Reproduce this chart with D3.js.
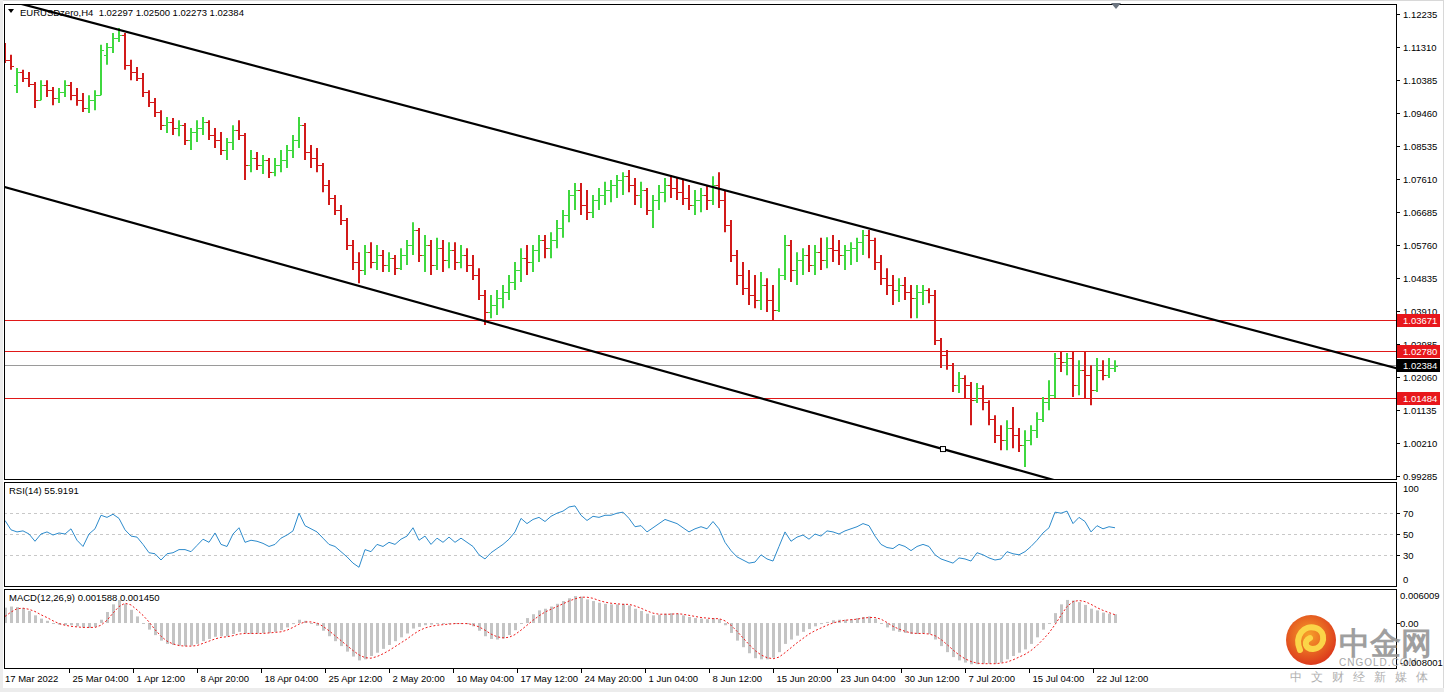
<!DOCTYPE html>
<html><head><meta charset="utf-8">
<script src="https://cdn.jsdelivr.net/npm/d3@7"></script>
<style>body{margin:0;background:#fff;} svg{display:block;} text{font-family:"Liberation Sans",Arial,sans-serif;}</style>
</head><body><svg id="c" width="1444" height="692"></svg>
<script>
// ---- DATA (each point = 3 H4 bars) ----
const opens=[1.1137,1.1095,1.1024,1.1061,1.1044,1.1027,1.0982,1.1024,1.1010,1.0988,
1.1005,1.1024,1.0996,1.0982,1.0960,1.0982,1.0996,1.1109,1.1131,1.1156,
1.1165,1.1081,1.1061,1.1044,1.1005,1.0977,1.0949,1.0912,1.0921,1.0904,
1.0912,1.0870,1.0893,1.0904,1.0921,1.0884,1.0870,1.0842,1.0865,1.0898,
1.0884,1.0800,1.0820,1.0800,1.0814,1.0780,1.0800,1.0814,1.0842,1.0870,
1.0912,1.0837,1.0820,1.0800,1.0744,1.0708,1.0674,1.0646,1.0576,1.0528,
1.0506,1.0556,1.0528,1.0548,1.0520,1.0539,1.0511,1.0548,1.0576,1.0618,
1.0548,1.0576,1.0520,1.0567,1.0534,1.0562,1.0528,1.0548,1.0520,1.0492,
1.0436,1.0388,1.0408,1.0427,1.0444,1.0472,1.0506,1.0539,1.0528,1.0562,
1.0590,1.0567,1.0590,1.0624,1.0660,1.0716,1.0730,1.0688,1.0668,1.0702,
1.0716,1.0730,1.0744,1.0758,1.0769,1.0744,1.0716,1.0730,1.0674,1.0702,
1.0724,1.0744,1.0736,1.0724,1.0708,1.0688,1.0702,1.0716,1.0702,1.0744,
1.0702,1.0632,1.0548,1.0492,1.0455,1.0436,1.0422,1.0464,1.0422,1.0394,
1.0492,1.0576,1.0506,1.0534,1.0548,1.0520,1.0556,1.0534,1.0567,1.0562,
1.0548,1.0562,1.0567,1.0584,1.0604,1.0590,1.0528,1.0483,1.0464,1.0450,
1.0464,1.0444,1.0427,1.0444,1.0450,1.0436,1.0310,1.0268,1.0240,1.0183,
1.0203,1.0183,1.0141,1.0175,1.0136,1.0088,1.0043,1.0029,1.0063,1.0043,
1.0015,1.0029,1.0057,1.0088,1.0136,1.0155,1.0259,1.0248,1.0259,1.0183,
1.0225,1.0211,1.0169,1.0225,1.0211,1.0231];
const highs=[1.1142,1.1109,1.1072,1.1067,1.1061,1.1033,1.1038,1.1038,1.1019,1.1016,
1.1038,1.1033,1.1016,1.1002,1.0996,1.1010,1.1137,1.1142,1.1170,1.1184,
1.1170,1.1095,1.1075,1.1058,1.1010,1.0988,1.0954,1.0935,1.0932,1.0926,
1.0918,1.0904,1.0926,1.0935,1.0926,1.0904,1.0893,1.0876,1.0912,1.0926,
1.0890,1.0842,1.0837,1.0828,1.0820,1.0820,1.0842,1.0856,1.0884,1.0935,
1.0918,1.0856,1.0848,1.0806,1.0758,1.0716,1.0688,1.0652,1.0590,1.0556,
1.0576,1.0584,1.0576,1.0562,1.0556,1.0548,1.0567,1.0590,1.0640,1.0624,
1.0604,1.0590,1.0596,1.0590,1.0584,1.0584,1.0576,1.0567,1.0548,1.0511,
1.0450,1.0436,1.0450,1.0464,1.0492,1.0528,1.0567,1.0576,1.0576,1.0604,
1.0604,1.0612,1.0646,1.0674,1.0730,1.0750,1.0750,1.0730,1.0716,1.0736,
1.0753,1.0758,1.0772,1.0780,1.0786,1.0764,1.0753,1.0736,1.0716,1.0744,
1.0764,1.0772,1.0764,1.0758,1.0744,1.0730,1.0736,1.0744,1.0769,1.0780,
1.0730,1.0646,1.0562,1.0528,1.0506,1.0492,1.0500,1.0483,1.0464,1.0511,
1.0604,1.0590,1.0556,1.0567,1.0576,1.0576,1.0596,1.0598,1.0604,1.0590,
1.0576,1.0584,1.0596,1.0618,1.0618,1.0596,1.0548,1.0511,1.0492,1.0483,
1.0486,1.0464,1.0464,1.0464,1.0455,1.0450,1.0315,1.0282,1.0245,1.0220,
1.0211,1.0192,1.0189,1.0183,1.0141,1.0099,1.0071,1.0085,1.0122,1.0063,
1.0057,1.0071,1.0107,1.0150,1.0197,1.0273,1.0276,1.0273,1.0276,1.0253,
1.0276,1.0239,1.0259,1.0253,1.0259,1.0253];
const lows=[1.1086,1.1067,1.1002,1.1033,1.1019,1.0960,1.0982,1.0991,1.0968,1.0974,
1.0991,1.0982,1.0966,1.0949,1.0946,1.0954,1.0996,1.1081,1.1114,1.1145,
1.1067,1.1038,1.1036,1.0991,1.0963,1.0935,1.0898,1.0890,1.0884,1.0881,
1.0856,1.0842,1.0865,1.0884,1.0870,1.0848,1.0828,1.0814,1.0842,1.0870,
1.0758,1.0780,1.0786,1.0775,1.0764,1.0769,1.0780,1.0792,1.0820,1.0848,
1.0814,1.0792,1.0780,1.0724,1.0688,1.0660,1.0632,1.0562,1.0506,1.0469,
1.0492,1.0511,1.0506,1.0500,1.0500,1.0492,1.0506,1.0520,1.0548,1.0528,
1.0500,1.0492,1.0506,1.0500,1.0511,1.0506,1.0511,1.0500,1.0478,1.0422,
1.0352,1.0371,1.0380,1.0399,1.0422,1.0450,1.0472,1.0492,1.0500,1.0528,
1.0539,1.0539,1.0567,1.0596,1.0640,1.0674,1.0660,1.0646,1.0652,1.0674,
1.0688,1.0696,1.0708,1.0716,1.0724,1.0688,1.0680,1.0660,1.0624,1.0674,
1.0696,1.0708,1.0702,1.0688,1.0674,1.0660,1.0668,1.0674,1.0688,1.0680,
1.0612,1.0528,1.0464,1.0436,1.0408,1.0399,1.0394,1.0388,1.0366,1.0388,
1.0478,1.0472,1.0464,1.0492,1.0500,1.0492,1.0506,1.0511,1.0528,1.0520,
1.0506,1.0520,1.0528,1.0548,1.0539,1.0506,1.0464,1.0436,1.0408,1.0416,
1.0422,1.0371,1.0371,1.0408,1.0413,1.0296,1.0231,1.0226,1.0164,1.0161,
1.0147,1.0071,1.0133,1.0113,1.0071,1.0021,1.0001,1.0001,1.0006,0.9996,
0.9954,1.0015,1.0035,1.0080,1.0113,1.0147,1.0220,1.0211,1.0150,1.0155,
1.0147,1.0127,1.0164,1.0197,1.0203,1.0220];
const closes=[1.1095,1.1078,1.1061,1.1044,1.1027,1.0982,1.1024,1.1010,1.0988,1.1005,
1.1024,1.0996,1.0982,1.0960,1.0982,1.0996,1.1123,1.1131,1.1156,1.1165,
1.1081,1.1061,1.1044,1.1005,1.0977,1.0949,1.0912,1.0921,1.0904,1.0912,
1.0870,1.0893,1.0904,1.0921,1.0884,1.0870,1.0842,1.0865,1.0898,1.0884,
1.0800,1.0820,1.0800,1.0814,1.0780,1.0800,1.0814,1.0842,1.0870,1.0912,
1.0837,1.0820,1.0800,1.0744,1.0708,1.0674,1.0646,1.0576,1.0528,1.0506,
1.0556,1.0528,1.0548,1.0520,1.0539,1.0511,1.0548,1.0576,1.0618,1.0548,
1.0576,1.0520,1.0567,1.0534,1.0562,1.0528,1.0548,1.0520,1.0492,1.0436,
1.0388,1.0408,1.0427,1.0444,1.0472,1.0506,1.0539,1.0528,1.0562,1.0590,
1.0567,1.0590,1.0624,1.0660,1.0716,1.0730,1.0688,1.0668,1.0702,1.0716,
1.0730,1.0744,1.0758,1.0769,1.0744,1.0716,1.0730,1.0674,1.0702,1.0724,
1.0744,1.0736,1.0724,1.0708,1.0688,1.0702,1.0716,1.0702,1.0744,1.0702,
1.0632,1.0548,1.0492,1.0455,1.0436,1.0422,1.0464,1.0422,1.0394,1.0492,
1.0576,1.0506,1.0534,1.0548,1.0520,1.0556,1.0534,1.0567,1.0562,1.0548,
1.0562,1.0567,1.0584,1.0604,1.0590,1.0528,1.0483,1.0464,1.0450,1.0464,
1.0444,1.0427,1.0444,1.0450,1.0436,1.0310,1.0268,1.0240,1.0183,1.0203,
1.0183,1.0141,1.0175,1.0136,1.0088,1.0043,1.0029,1.0063,1.0043,1.0015,
1.0029,1.0057,1.0088,1.0136,1.0155,1.0259,1.0248,1.0259,1.0183,1.0225,
1.0211,1.0169,1.0225,1.0211,1.0231,1.0238];
const rsi=[63,54,52,53,50,43,50,52,49,51,
50,55,44,38,50,55,68,66,69,65,
54,48,47,40,32,31,25,31,32,35,
35,33,39,45,42,51,40,38,50,56,
42,44,43,41,38,40,46,49,53,70,
58,55,52,46,40,38,33,28,22,18,
35,33,40,38,42,40,45,48,56,44,
48,40,46,42,47,42,46,42,38,30,
26,32,36,40,45,52,65,60,64,66,
62,67,70,72,76,77,68,63,67,66,
68,68,70,71,65,57,58,52,56,60,
64,62,60,56,52,55,57,55,62,55,
42,34,28,25,22,23,30,26,24,38,
52,43,47,49,45,50,48,53,52,50,
53,55,57,60,58,48,40,37,36,40,
38,34,38,40,38,30,26,24,22,27,
26,24,32,30,27,25,26,33,31,30,
33,38,44,51,56,71,70,72,60,66,
62,52,58,55,57,56];
const macdHist=[0.0028,0.0030,0.0029,0.0027,0.0022,0.0014,0.0008,0.0004,0.0000,-0.0003,
-0.0004,-0.0004,-0.0006,-0.0008,-0.0009,-0.0007,0.0006,0.0020,0.0034,0.0042,
0.0035,0.0024,0.0012,0.0000,-0.0012,-0.0022,-0.0032,-0.0038,-0.0040,-0.0041,
-0.0042,-0.0041,-0.0038,-0.0033,-0.0029,-0.0025,-0.0024,-0.0024,-0.0020,-0.0016,
-0.0019,-0.0020,-0.0019,-0.0018,-0.0018,-0.0016,-0.0013,-0.0008,-0.0002,0.0006,
0.0004,0.0000,-0.0005,-0.0014,-0.0024,-0.0033,-0.0042,-0.0052,-0.0061,-0.0068,
-0.0066,-0.0060,-0.0054,-0.0047,-0.0040,-0.0033,-0.0026,-0.0019,-0.0010,-0.0007,
-0.0004,-0.0003,-0.0001,-0.0001,0.0000,-0.0001,-0.0001,-0.0002,-0.0006,-0.0014,
-0.0024,-0.0029,-0.0030,-0.0028,-0.0022,-0.0013,0.0000,0.0009,0.0016,0.0023,
0.0026,0.0030,0.0035,0.0040,0.0045,0.0049,0.0048,0.0043,0.0040,0.0037,
0.0035,0.0034,0.0034,0.0035,0.0032,0.0026,0.0022,0.0017,0.0014,0.0015,
0.0017,0.0018,0.0017,0.0014,0.0011,0.0009,0.0008,0.0007,0.0009,0.0007,
-0.0004,-0.0018,-0.0032,-0.0044,-0.0055,-0.0064,-0.0066,-0.0066,-0.0063,-0.0053,
-0.0038,-0.0030,-0.0023,-0.0016,-0.0011,-0.0006,-0.0002,0.0002,0.0005,0.0006,
0.0006,0.0007,0.0009,0.0011,0.0012,0.0008,0.0000,-0.0008,-0.0014,-0.0016,
-0.0018,-0.0020,-0.0020,-0.0019,-0.0020,-0.0030,-0.0042,-0.0053,-0.0062,-0.0068,
-0.0072,-0.0075,-0.0075,-0.0074,-0.0074,-0.0074,-0.0072,-0.0066,-0.0060,-0.0054,
-0.0048,-0.0038,-0.0026,-0.0012,0.0000,0.0018,0.0034,0.0042,0.0041,0.0038,
0.0033,0.0026,0.0023,0.0019,0.0017,0.0016];
const macdSignal=[0.0012,0.0020,0.0026,0.0027,0.0025,0.0021,0.0015,0.0010,0.0004,-0.0001,
-0.0004,-0.0006,-0.0007,-0.0008,-0.0008,-0.0008,-0.0004,0.0005,0.0018,0.0030,
0.0036,0.0033,0.0024,0.0014,0.0002,-0.0012,-0.0024,-0.0033,-0.0038,-0.0041,
-0.0042,-0.0042,-0.0041,-0.0037,-0.0033,-0.0029,-0.0026,-0.0025,-0.0023,-0.0020,
-0.0019,-0.0019,-0.0019,-0.0019,-0.0018,-0.0017,-0.0016,-0.0013,-0.0008,-0.0002,
0.0002,0.0002,0.0000,-0.0006,-0.0014,-0.0023,-0.0032,-0.0041,-0.0050,-0.0058,
-0.0063,-0.0064,-0.0061,-0.0056,-0.0050,-0.0043,-0.0036,-0.0029,-0.0021,-0.0014,
-0.0009,-0.0006,-0.0004,-0.0003,-0.0002,-0.0001,-0.0001,-0.0001,-0.0003,-0.0007,
-0.0013,-0.0020,-0.0025,-0.0027,-0.0026,-0.0021,-0.0013,-0.0004,0.0005,0.0013,
0.0020,0.0025,0.0030,0.0035,0.0040,0.0044,0.0047,0.0047,0.0045,0.0041,
0.0038,0.0036,0.0035,0.0034,0.0034,0.0031,0.0027,0.0022,0.0018,0.0016,
0.0016,0.0016,0.0017,0.0016,0.0014,0.0012,0.0010,0.0009,0.0008,0.0008,
0.0004,-0.0004,-0.0015,-0.0027,-0.0039,-0.0050,-0.0058,-0.0063,-0.0065,-0.0062,
-0.0054,-0.0045,-0.0036,-0.0028,-0.0020,-0.0014,-0.0009,-0.0004,0.0000,0.0003,
0.0005,0.0006,0.0007,0.0009,0.0010,0.0010,0.0007,0.0001,-0.0006,-0.0011,
-0.0015,-0.0018,-0.0019,-0.0019,-0.0020,-0.0023,-0.0030,-0.0039,-0.0049,-0.0058,
-0.0065,-0.0070,-0.0073,-0.0074,-0.0074,-0.0074,-0.0073,-0.0071,-0.0067,-0.0062,
-0.0057,-0.0050,-0.0041,-0.0030,-0.0018,-0.0003,0.0014,0.0030,0.0039,0.0041,
0.0039,0.0034,0.0028,0.0023,0.0019,0.0015];
const priceTicks=[1.12235,1.11310,1.10385,1.09460,1.08535,1.07610,1.06685,1.05760,1.04835,1.03910,1.02985,1.02060,1.01135,1.00210,0.99285];
const rsiTicks=[100,70,50,30,0];
const rsiLevels=[70,50,30];
const macdTicks=[0.006009,0.00,-0.008001];
const macdTickText=["0.006009","0.00","-0.008001"];
const timeLabels=["17 Mar 2022","25 Mar 04:00","1 Apr 12:00","8 Apr 20:00","18 Apr 04:00","25 Apr 12:00","2 May 20:00","10 May 04:00","17 May 12:00","24 May 20:00","1 Jun 04:00","8 Jun 12:00","15 Jun 20:00","23 Jun 04:00","30 Jun 12:00","7 Jul 20:00","15 Jul 04:00","22 Jul 12:00"];
const timeLabelBars=[0,33,65,97,129,161,193,225,257,289,321,353,385,417,449,481,513,545];
const redLevels=[1.03671,1.02780,1.01484];
const lastPrice=1.02384;
const channelUpper=[[11,1.1249],[696.5,1.0231]];
const channelLower=[[0.5,1.0739],[470,1.0004]];
const header="EURUSDzero,H4  1.02297 1.02500 1.02273 1.02384";
const rsiTitle="RSI(14) 55.9191";
const macdTitle="MACD(12,26,9) 0.001588 0.001450";

// ---- LAYOUT ----
const W=1444,H=692,L=4,R=1396;
const mainTop=4,mainBot=479,rsiTop=482,rsiBot=586,macdTop=589,macdBot=668;
const FONT='"Liberation Sans",Arial,sans-serif';
const svg=d3.select("#c");
svg.append("rect").attr("width",W).attr("height",H).attr("fill","#fff");

const x=d3.scaleLinear().domain([0,555]).range([3,1113]);
const y=d3.scaleLinear().domain([0.99285,1.12235]).range([476,14]);
const yR=d3.scaleLinear().domain([0,100]).range([rsiBot,rsiTop]);
const yM=d3.scaleLinear().domain([-0.008001,0.006009]).range([macdBot-1,macdTop+1]);
const barIdx=i=>3*i+1;

const defs=svg.append("defs");
[["cm",mainTop,mainBot],["cr",rsiTop,rsiBot],["cd",macdTop,macdBot]].forEach(([id,t,b])=>{
  defs.append("clipPath").attr("id",id).append("rect").attr("x",L+1).attr("y",t+1).attr("width",R-L-1).attr("height",b-t-1);
});

// ---- MAIN PANEL ----
const gm=svg.append("g").attr("clip-path","url(#cm)");
gm.selectAll("line.lvl").data(redLevels).join("line")
  .attr("x1",L).attr("x2",R).attr("y1",d=>Math.round(y(d))+0.5).attr("y2",d=>Math.round(y(d))+0.5)
  .attr("stroke","#e01818").attr("stroke-width",1);
gm.append("line").attr("x1",L).attr("x2",R).attr("y1",Math.round(y(lastPrice))+0.5).attr("y2",Math.round(y(lastPrice))+0.5)
  .attr("stroke","#9a9a9a").attr("stroke-width",1);
const idx=d3.range(opens.length);
const upC="#3fd83f",dnC="#d21a1a";
const gb=gm.append("g");
idx.forEach(i=>{
  const cx=x(barIdx(i)), col=closes[i]>=opens[i]?upC:dnC;
  gb.append("line").attr("x1",cx).attr("x2",cx).attr("y1",y(highs[i])).attr("y2",y(lows[i])).attr("stroke",col).attr("stroke-width",2);
  gb.append("line").attr("x1",cx-3).attr("x2",cx).attr("y1",Math.round(y(opens[i]))+0.5).attr("y2",Math.round(y(opens[i]))+0.5).attr("stroke",col).attr("stroke-width",1);
  gb.append("line").attr("x1",cx).attr("x2",cx+3).attr("y1",Math.round(y(closes[i]))+0.5).attr("y2",Math.round(y(closes[i]))+0.5).attr("stroke",col).attr("stroke-width",1);
});
function extLine(p){
  const [a,b]=p, s=(b[1]-a[1])/(b[0]-a[0]);
  const i0=-10,i1=720;
  return [[x(i0),y(a[1]+s*(i0-a[0]))],[x(i1),y(a[1]+s*(i1-a[0]))]];
}
[channelUpper,channelLower].forEach(c=>{
  const e=extLine(c);
  gm.append("line").attr("x1",e[0][0]).attr("y1",e[0][1]).attr("x2",e[1][0]).attr("y2",e[1][1])
    .attr("stroke","#000").attr("stroke-width",2.2);
});
gm.append("rect").attr("x",x(channelLower[1][0])-2.5).attr("y",y(channelLower[1][1])-2.5).attr("width",5).attr("height",5)
  .attr("fill","#fff").attr("stroke","#000").attr("stroke-width",1);

// ---- RSI PANEL ----
const gr=svg.append("g").attr("clip-path","url(#cr)");
gr.selectAll("line").data(rsiLevels).join("line")
  .attr("x1",L).attr("x2",R).attr("y1",d=>Math.round(yR(d))+0.5).attr("y2",d=>Math.round(yR(d))+0.5)
  .attr("stroke","#c8c8c8").attr("stroke-dasharray","3,3");
gr.append("path").datum(rsi).attr("fill","none").attr("stroke","#2d8bcc").attr("stroke-width",1)
  .attr("d",d3.line().x((d,i)=>x(barIdx(i))).y(d=>yR(d)));

// ---- MACD PANEL ----
const gd=svg.append("g").attr("clip-path","url(#cd)");
gd.selectAll("rect").data(macdHist).join("rect")
  .attr("x",(d,i)=>x(barIdx(i))-1).attr("width",3)
  .attr("y",d=>Math.min(yM(d),yM(0))).attr("height",d=>Math.max(1,Math.abs(yM(d)-yM(0))))
  .attr("fill","#c4c4c4");
gd.append("path").datum(macdSignal).attr("fill","none").attr("stroke","#ee1c1c").attr("stroke-width",1).attr("stroke-dasharray","2,2")
  .attr("d",d3.line().x((d,i)=>x(barIdx(i))).y(d=>yM(d)));

// ---- FRAMES ----
[[mainTop,mainBot],[rsiTop,rsiBot],[macdTop,macdBot]].forEach(([t,b])=>{
  svg.append("rect").attr("x",L+0.5).attr("y",t+0.5).attr("width",R-L).attr("height",b-t)
    .attr("fill","none").attr("stroke","#000").attr("stroke-width",1);
});
svg.append("rect").attr("x",0.5).attr("y",0.5).attr("width",W-1).attr("height",H-1).attr("fill","none").attr("stroke","#d8d8d8");
svg.append("rect").attr("x",0).attr("y",688).attr("width",W).attr("height",4).attr("fill","#ececec");
svg.append("rect").attr("x",0).attr("y",0).attr("width",3).attr("height",H).attr("fill","#ececec");

// ---- WATERMARK (under axis text) ----
const wm=svg.append("g");
const gr2=defs.append("radialGradient").attr("id","lg").attr("cx","45%").attr("cy","40%").attr("r","60%");
gr2.append("stop").attr("offset","0%").attr("stop-color","#f7a02a");
gr2.append("stop").attr("offset","100%").attr("stop-color","#dc3a1c");
wm.append("circle").attr("cx",1311).attr("cy",640).attr("r",25).attr("fill","url(#lg)");
wm.append("path").attr("d","M1300,650 C1294,636 1304,624 1316,628 C1327,632 1325,648 1313,649 C1305,649 1303,641 1310,638")
  .attr("fill","none").attr("stroke","#fbd548").attr("stroke-width",6).attr("stroke-linecap","round");
wm.append("text").attr("x",1339).attr("y",654).attr("font-family",'"Noto Sans CJK SC"').attr("font-weight","bold").attr("font-size",31)
  .attr("fill","#8f8f8f").attr("opacity",0.85).text("中金网");
wm.append("text").attr("x",1339).attr("y",666).attr("font-family",FONT).attr("font-size",10).attr("letter-spacing",1).attr("fill","#a8a8a8").text("CNGOLD.COM");
wm.append("text").attr("x",1290).attr("y",681).attr("font-family",'"Noto Sans CJK SC"').attr("font-size",12).attr("letter-spacing",9).attr("fill","#b0b0b0").text("中文财经新媒体");

// ---- PRICE AXIS ----
const fs=9.5;
const ax=svg.append("g").attr("font-family",FONT).attr("font-size",fs).attr("fill","#000");
priceTicks.forEach(p=>{
  const yy=Math.round(y(p))+0.5;
  ax.append("line").attr("x1",R).attr("x2",R+4).attr("y1",yy).attr("y2",yy).attr("stroke","#000");
  ax.append("text").attr("x",R+7).attr("y",yy+3.5).text(p.toFixed(5));
});
function tag(p,bg){
  const yy=Math.round(y(p));
  ax.append("rect").attr("x",R+1).attr("y",yy-6).attr("width",43).attr("height",13).attr("fill",bg);
  ax.append("text").attr("x",R+7).attr("y",yy+3.5).attr("fill","#fff").text(p.toFixed(5));
}
redLevels.forEach(p=>tag(p,"#e8171c"));
tag(lastPrice,"#000");
rsiTicks.forEach(v=>{
  const yy=Math.round(yR(v))+0.5;
  const ty=v===100?yy+9:(v===0?yy-4:yy+3.5);
  if(v!==100&&v!==0) ax.append("line").attr("x1",R).attr("x2",R+4).attr("y1",yy).attr("y2",yy).attr("stroke","#000");
  ax.append("text").attr("x",R+7).attr("y",ty).text(v);
});
macdTicks.forEach((v,i)=>{
  const yy=Math.round(yM(v))+0.5;
  const ty=i===0?yy+8:(i===2?yy-2:yy+3.5);
  if(i===1) ax.append("line").attr("x1",R).attr("x2",R+4).attr("y1",yy).attr("y2",yy).attr("stroke","#000");
  ax.append("text").attr("x",R+4).attr("y",ty).text(macdTickText[i]);
});

// ---- TIME AXIS ----
timeLabels.forEach((t,i)=>{
  const xx=Math.round(x(timeLabelBars[i]))+0.5;
  if(i>0) ax.append("line").attr("x1",xx).attr("x2",xx).attr("y1",macdBot).attr("y2",macdBot+5).attr("stroke","#000");
  ax.append("text").attr("x",i===0?5:xx+3).attr("y",682).text(t);
});

// ---- TITLES ----
svg.append("path").attr("d","M8,9 L14,9 L11,13 Z").attr("fill","#000");
svg.append("text").attr("x",20).attr("y",16).attr("font-family",FONT).attr("font-size",fs).attr("xml:space","preserve").style("white-space","pre").text(header);
svg.append("text").attr("x",9).attr("y",494).attr("font-family",FONT).attr("font-size",fs).text(rsiTitle);
svg.append("text").attr("x",9).attr("y",601).attr("font-family",FONT).attr("font-size",fs).text(macdTitle);
svg.append("path").attr("d","M1111,3 L1121,3 L1116,9 Z").attr("fill","#6c7580");
</script></body></html>
